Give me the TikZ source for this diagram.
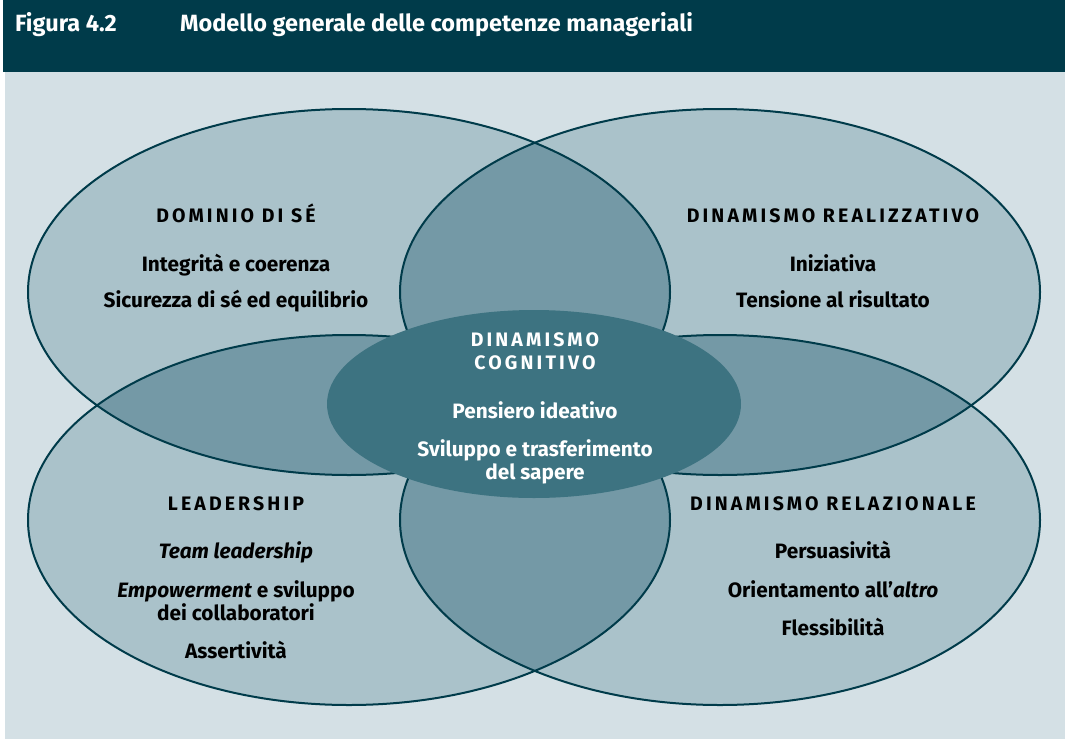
\documentclass[tikz,border=0pt]{standalone}
\usepackage{fontspec}
\setmainfont{Fira Sans}
\definecolor{dark}{HTML}{003B4A}
\definecolor{bgc}{HTML}{D4E0E5}
\definecolor{lite}{HTML}{AAC2CA}
\definecolor{mid}{HTML}{7499A6}
\definecolor{core}{HTML}{3D7381}
\tikzset{
  outl/.style={draw=dark, line width=2pt},
  head/.style={font=\fontsize{19.5}{23}\selectfont\bfseries\addfontfeatures{LetterSpace=16}, text=black, anchor=base, inner sep=0pt},
  item/.style={font=\fontsize{20.8}{24}\selectfont\bfseries, text=black, anchor=base, align=center, inner sep=0pt},
  titletxt/.style={font=\fontsize{23.5}{27}\selectfont\bfseries, text=white, anchor=base west, inner sep=0pt},
}
\begin{document}
\begin{tikzpicture}[x=1pt,y=-1pt]
\useasboundingbox (0,0) rectangle (1065,739);
\fill[white] (0,0) rectangle (1065,739);
\fill[dark] (3,0) rectangle (1065,72);
\fill[bgc] (5,72) rectangle (1065,739);
\def\TL{(349,292) ellipse [x radius=321pt, y radius=183pt]}
\def\TR{(720,292) ellipse [x radius=320pt, y radius=183pt]}
\def\BL{(349,520) ellipse [x radius=321pt, y radius=185pt]}
\def\BR{(720,520) ellipse [x radius=320pt, y radius=185pt]}
\fill[lite] \TL; \fill[lite] \TR; \fill[lite] \BL; \fill[lite] \BR;
\begin{scope}\clip \TL; \fill[mid] \TR; \fill[mid] \BL; \fill[mid] \BR; \end{scope}
\begin{scope}\clip \TR; \fill[mid] \BR; \fill[mid] \BL; \end{scope}
\begin{scope}\clip \BL; \fill[mid] \BR; \end{scope}
\draw[outl] \TL; \draw[outl] \TR; \draw[outl] \BL; \draw[outl] \BR;
\fill[core] (534,404) ellipse [x radius=207pt, y radius=94pt];
% title
\node[titletxt] (fig) at (15,31) {Figura 4.2};
\node[titletxt] (tit) at (180,31) {Modello generale delle competenze manageriali};
% top-left
\node[head] (h1) at (236,222) {DOMINIO DI SÉ};
\node[item] (a1) at (236,271) {Integrità e coerenza};
\node[item] (a2) at (236,307) {Sicurezza di sé ed equilibrio};
% top-right
\node[head] (h2) at (833,222) {DINAMISMO REALIZZATIVO};
\node[item] (b1) at (833,271) {Iniziativa};
\node[item] (b2) at (833,307) {Tensione al risultato};
% center
\node[head, text=white] (h3) at (535,346) {DINAMISMO};
\node[head, text=white] (h3b) at (535,369) {COGNITIVO};
\node[item, text=white] (c1) at (535,418) {Pensiero ideativo};
\node[item, text=white] (c2) at (535,456) {Sviluppo e trasferimento};
\node[item, text=white] (c3) at (535,479) {del sapere};
% bottom-left
\node[head] (h4) at (236,510) {LEADERSHIP};
\node[item] (d1) at (236,558) {\itshape Team leadership};
\node[item] (d2) at (236,597) {\textit{Empowerment} e sviluppo};
\node[item] (d3) at (236,620) {dei collaboratori};
\node[item] (d4) at (236,658) {Assertività};
% bottom-right
\node[head] (h5) at (833,510) {DINAMISMO RELAZIONALE};
\node[item] (e1) at (833,558) {Persuasività};
\node[item] (e2) at (833,597) {Orientamento all’\textit{altro}};
\node[item] (e3) at (833,635) {Flessibilità};
\end{tikzpicture}
\end{document}
